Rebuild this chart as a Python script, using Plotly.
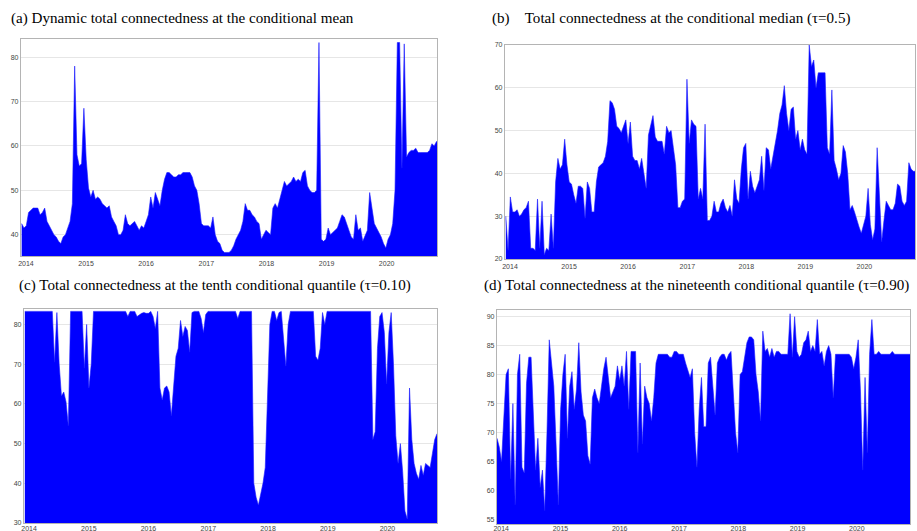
import pandas as pd
import plotly.graph_objects as go

# ---- time axis: fortnightly observations ----
dates = pd.date_range('2013-12-06', periods=183, freq='14D')
year_ticks = ['2014-01-01', '2015-01-01', '2016-01-01', '2017-01-01',
              '2018-01-01', '2019-01-01', '2020-01-01']
year_labels = ['2014', '2015', '2016', '2017', '2018', '2019', '2020']

F = 83.3  # saturated level in panel (c)

# (a) Dynamic total connectedness at the conditional mean
mean_tc = [
    42.5, 41.5,
    42, 45, 45.5, 46, 46, 46, 44.5, 45, 46, 43, 42, 41, 40, 39.5, 38.5, 38, 39.5, 40, 41.5, 43, 47, 78, 58, 55.5, 56, 68.5,
    57, 50.5, 48.5, 50, 48, 48.5, 48, 47, 46.5, 46, 46.5, 44, 43, 42, 40, 40, 41, 44.5, 42.5, 42, 42.5, 43, 42, 41, 42, 41.5,
    43, 44.5, 48.5, 46, 49.5, 48, 46.5, 50, 52.5, 54, 54, 53.5, 53, 53, 53.5, 53.5, 54, 54, 54, 54, 53, 51, 50, 47, 42.5, 42,
    42, 42, 41.5, 44, 40, 38.5, 38, 36.5, 36, 36, 36, 36.5, 37.5, 39, 40, 41, 43, 47, 45.5, 45.5, 44.5, 44, 43, 42.5, 39, 40,
    41, 40.5, 40, 46, 47, 46, 48, 50, 52, 51, 51.5, 52, 53, 52, 52.5, 52, 54, 54.5, 51, 50, 49.5, 49.5, 50, 83.3, 39, 38.5,
    39, 41.5, 40, 40.5, 41, 41.5, 43, 44.5, 44, 42.5, 40.5, 39.5, 39, 44.5, 41, 41.5, 38.5, 40, 41, 49.5, 46.5, 42.5, 41.5, 40.5, 39.5, 38,
    37, 39, 40, 42.5, 50, 83.3, 83.3, 55, 83, 57.5, 58.5, 59, 59, 59.5, 58.5, 58.5, 58.5, 58.5, 58.5, 59, 60.5, 60, 61, 61, 61,
]

# (b) Total connectedness at the conditional median (tau=0.5)
median_tc = [
    30, 22,
    34.5, 31, 31, 31.5, 30, 30.5, 31.5, 32, 33.5, 22.5, 22.5, 22, 34, 22.5, 33.5, 21, 22.5, 22, 30.5, 22.5, 38, 43.5, 41, 42, 48, 42,
    38, 37.5, 35, 33, 37, 37, 36.5, 29.5, 38, 36.5, 31, 31, 38, 41.5, 42, 42.5, 44, 47.5, 57, 56.5, 55, 51, 50.5, 49.5, 51, 52.5,
    47, 52, 44, 43, 43, 41, 43.5, 40, 36.5, 49, 51, 53.5, 48.5, 47.5, 47.5, 47.5, 44.5, 51, 49.5, 50, 46, 42, 32, 32, 33.5, 34,
    62, 47, 52.5, 51.5, 51, 34, 36.5, 34, 51.5, 29, 29, 30, 33.5, 31, 31, 33, 34, 32, 31, 32.5, 30, 38.5, 34, 33, 41, 46,
    47, 34, 40.5, 37, 35.5, 37, 38.5, 44, 36, 46, 45.5, 41, 44, 47.5, 50, 54, 56, 60.5, 54, 50, 55, 55.5, 48, 50, 45.5, 48,
    45.5, 44.5, 70, 65, 66.5, 60, 63.5, 63.5, 63.5, 63.5, 46, 44.5, 59.5, 43, 41, 38.5, 40, 46.5, 45, 40, 31.5, 32.5, 31, 29, 27.5, 26,
    28, 30, 36.5, 28, 24.5, 27, 46, 35.5, 24, 29, 33.5, 32.5, 31.5, 31.5, 33, 37.5, 37, 33.5, 32.5, 33.5, 42.5, 41, 40.5, 40.5, 40.5,
]

# (c) Total connectedness at the tenth conditional quantile (tau=0.10)
q10_tc = [
    F, F,
    F, F, F, F, F, F, F, F, F, F, F, 70.5, 83, 70, 62, 63, 60.5, 54.5, F, F, F, F, F, F, 69, 80,
    64, 70, F, F, F, F, F, F, F, F, F, F, F, F, F, F, F, 82, F, F, F, 82, 82.5, 82.8, 83, 82.8,
    82.8, F, 82, 79, F, 64, 61, 64, 64.5, 63, 57, 65, 72, 74, 81, 77, 79.5, 78.5, 73, 83, F, F, F, 81.5, 78, 82.5,
    F, F, F, F, F, F, F, F, F, F, F, F, F, 81.5, F, F, F, F, F, F, 40, 36.5, 34.5, 37, 40, 44,
    65, 80, F, F, 81, 83, F, 76, 69.5, 80, F, F, F, F, F, F, F, F, F, F, F, 72, 71, 74, 83, 80,
    F, F, F, F, F, F, F, F, F, F, F, F, F, F, F, F, F, F, F, F, 51, 53, 74, 82, 83, 78,
    65, 78, 83, 70, 52, 45, 50, 43, 33, 31, 64, 51, 45, 42.5, 41, 44.5, 42, 45, 44.5, 44, 47.5, 51, 52.5, 52.5, 52.5,
]

# (d) Total connectedness at the upper conditional quantile (tau=0.90)
q90_tc = [
    69, 67.5,
    65, 72.5, 80, 81, 62, 75, 57.5, 80, 83.5, 64, 63, 78.5, 83, 83, 73, 63.5, 69, 60.5, 63.5, 56.5, 70, 86, 82, 78, 68, 57.5,
    74, 80, 83.5, 69, 78, 80.5, 74, 77.5, 85.5, 77, 73, 72, 66, 64.5, 76, 77.5, 76, 75, 78, 81, 83, 80, 76, 77, 78, 81.5,
    79, 81.5, 78, 84, 74, 84, 84, 84, 66.5, 82, 68, 78, 76, 75, 72, 76, 82, 83.5, 83.5, 83.5, 83.5, 83.5, 83, 83, 84, 84,
    83.5, 83.5, 83.5, 82, 80.5, 79.5, 81, 70, 64, 74, 79.5, 71, 71, 82, 83, 78, 73, 82, 83, 83.5, 83.5, 82.5, 83.5, 84, 76, 70,
    66.5, 80, 80.5, 83, 85.5, 86.5, 86.5, 86, 80, 77, 72, 87.5, 84, 84.5, 83, 84.5, 83, 84, 84, 83.5, 83.5, 83.5, 83.5, 90.5, 83, 90,
    84, 83, 83.5, 85.5, 86, 87.5, 84, 85, 84, 89.5, 83.5, 84, 81.5, 84, 85, 83.5, 76, 83.5, 83.5, 83.5, 83.5, 83.5, 83.5, 83.5, 83, 81,
    83, 86, 77, 63.5, 79.5, 66.5, 83.5, 89.5, 83.5, 83.5, 84, 83.5, 83.5, 83.5, 83.5, 83.5, 84, 83.5, 83.5, 83.5, 83.5, 83.5, 83.5, 83.5, 83.5,
]

titles = [
    "(a) Dynamic total connectedness at the conditional mean",
    "(b)\u00a0\u00a0\u00a0\u00a0Total connectedness at the conditional median (\u03c4=0.5)",
    "(c) Total connectedness at the tenth conditional quantile (\u03c4=0.10)",
    "(d) Total connectedness at the nineteenth conditional quantile (\u03c4=0.90)",
]

W, H = 917, 531

panels = [
    dict(px=(21, 437), py=(39, 256), yr=[35.2, 84.1], yt=[40, 50, 60, 70, 80],
         xr=['2013-12-02', '2020-11-02'], data=mean_tc, tx=10, ty=18, xs=0),
    dict(px=(505, 915), py=(45, 259), yr=[20, 70], yt=[20, 30, 40, 50, 60, 70],
         xr=['2013-12-01', '2020-11-09'], data=median_tc, tx=491, ty=18, xs=0),
    dict(px=(24, 437), py=(309, 523), yr=[30, 83.9], yt=[30, 40, 50, 60, 70, 80],
         xr=['2013-12-01', '2020-10-30'], data=q10_tc, tx=18, ty=285, xs=-2),
    dict(px=(497, 910), py=(310, 524), yr=[54.2, 91.15], yt=[55, 60, 65, 70, 75, 80, 85, 90],
         xr=['2013-12-06', '2020-11-24'], data=q90_tc, tx=483, ty=285, xs=-3),
]

fig = go.Figure()
tick_font = dict(family="Liberation Sans, Arial, sans-serif", size=7, color="#444444")
annotations = []
for n, p in enumerate(panels, start=1):
    assert len(p['data']) == len(dates)
    xa = 'x' if n == 1 else f'x{n}'
    ya = 'y' if n == 1 else f'y{n}'
    fig.add_trace(go.Scatter(
        x=dates, y=p['data'], xaxis=xa, yaxis=ya, mode='lines',
        line=dict(color='#1a1aff', width=0.6), fill='tozeroy', fillcolor='#0000ff',
        showlegend=False, hoverinfo='skip'))
    xkey = 'xaxis' if n == 1 else f'xaxis{n}'
    ykey = 'yaxis' if n == 1 else f'yaxis{n}'
    fig.layout[xkey] = dict(
        domain=[p['px'][0] / W, p['px'][1] / W], anchor=ya, type='date',
        range=p['xr'], tickvals=year_ticks, ticktext=year_labels,
        showgrid=False, showline=True, mirror=True, linecolor='#b4b4b4', linewidth=1.2,
        ticks='', tickfont=tick_font, zeroline=False, fixedrange=True,
        automargin=False, ticklabelstandoff=p['xs'])
    fig.layout[ykey] = dict(
        domain=[1 - p['py'][1] / H, 1 - p['py'][0] / H], anchor=xa,
        range=p['yr'], tickvals=p['yt'], showgrid=True, gridcolor='#e6e6e6', gridwidth=1,
        showline=True, mirror=True, linecolor='#b4b4b4', linewidth=1.2,
        ticks='', tickfont=tick_font, zeroline=False, fixedrange=True,
        automargin=False)
    annotations.append(dict(
        text=titles[n - 1], xref='paper', yref='paper',
        x=p['tx'] / W, y=1 - p['ty'] / H, xanchor='left', yanchor='middle',
        showarrow=False, borderpad=0,
        font=dict(family="Liberation Serif, Times New Roman, serif", size=15.1, color="#000000")))

fig.update_layout(
    width=W, height=H, margin=dict(l=0, r=0, t=0, b=0, autoexpand=False),
    paper_bgcolor='white', plot_bgcolor='white',
    annotations=annotations, showlegend=False)

fig.write_html("out.html", config={'displayModeBar': False},
               post_script="document.body.style.margin='0px';document.body.style.overflow='hidden';")
